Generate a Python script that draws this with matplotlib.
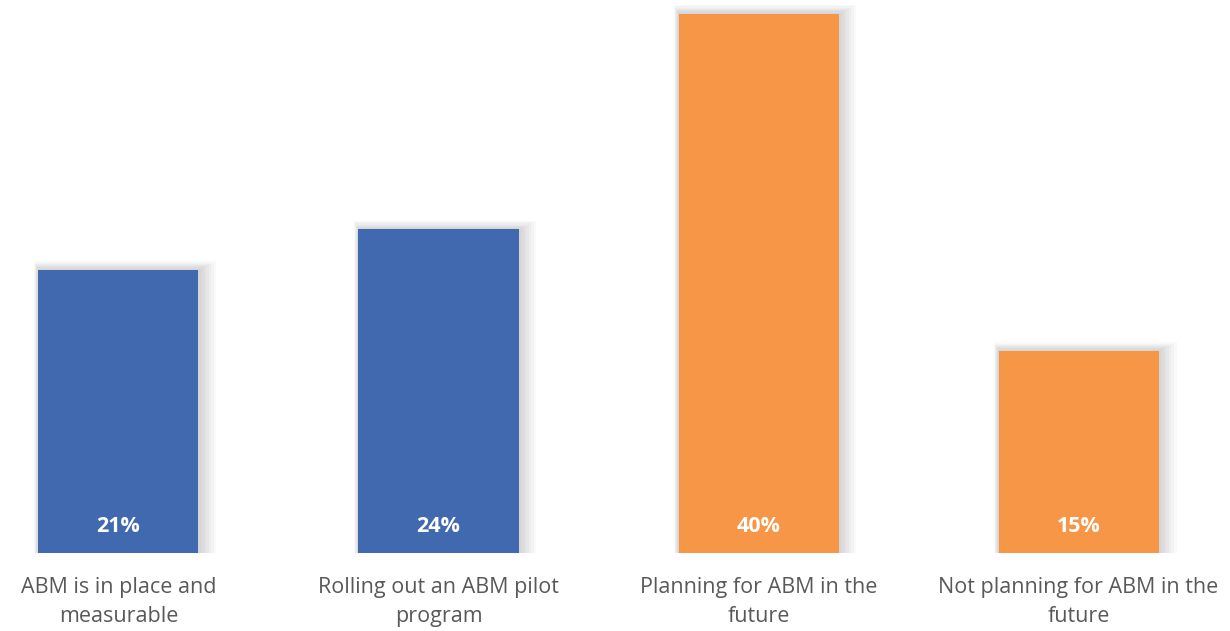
import matplotlib.pyplot as plt
import numpy as np

categories = ['ABM is in place and\nmeasurable', 'Rolling out an ABM pilot\nprogram',
              'Planning for ABM in the\nfuture', 'Not planning for ABM in the\nfuture']
values = [21, 24, 40, 15]
colors = ['#4169B0', '#4169B0', '#F79646', '#F79646']

plt.rcParams['font.family'] = ['Open Sans', 'DejaVu Sans']

fig = plt.figure(figsize=(12.3, 6.31), dpi=100)
ax = fig.add_axes([0, 0.1236, 1, 0.8764])
x = np.arange(len(values))

# soft shadow behind the bars
for k in range(1, 8):
    ax.bar(x + 0.003 * k, [v + 0.09 * k for v in values], width=0.5 + 0.01 * k,
           color='black', alpha=0.022, linewidth=0, zorder=1)

ax.bar(x, values, width=0.5, color=colors, linewidth=0, zorder=2)

for xi, v in zip(x, values):
    ax.text(xi, 2.0, f'{v}%', ha='center', va='center', color='white',
            fontsize=15.5, fontweight='bold', zorder=3)

for xi, c in zip(x, categories):
    ax.text(xi, -1.75, c, ha='center', va='top', color='#595959',
            fontsize=15.5, linespacing=1.55, clip_on=False)

ax.set_xlim(-0.37, 3.473)
ax.set_ylim(0, 41.02)
ax.axis('off')

fig.savefig('out.png', dpi=100)
